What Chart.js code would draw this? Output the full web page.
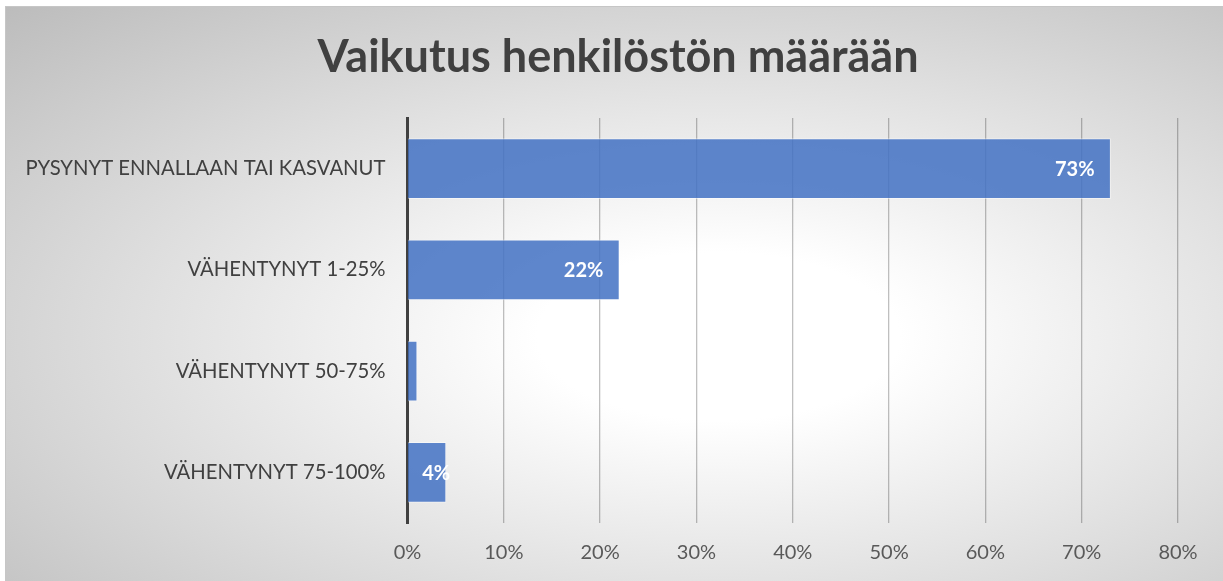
<!DOCTYPE html>
<html>
<head>
<meta charset="utf-8">
<script src="https://cdn.jsdelivr.net/npm/chart.js@4.4.0/dist/chart.umd.min.js"></script>
<style>
  html, body { margin: 0; padding: 0; background: #ffffff; }
  #wrap { position: relative; width: 1223px; height: 581px; overflow: hidden; }
  #bg {
    position: absolute; left: 5px; top: 6px; width: 1230px; height: 590px;
    border: 1px solid #c6c6c6; box-sizing: border-box;
    background: radial-gradient(ellipse farthest-corner at 58% 56%, #ffffff 0%, #ffffff 18%, #bcbcbc 100%);
  }
  #chart { position: absolute; left: 0; top: 0; }
</style>
</head>
<body>
<div id="wrap">
  <div id="bg"></div>
  <canvas id="chart" width="1223" height="581"></canvas>
</div>
<script>
// kategoriat ja arvot (%)
const categories = [
  'PYSYNYT ENNALLAAN TAI KASVANUT',
  'VÄHENTYNYT 1-25%',
  'VÄHENTYNYT 50-75%',
  'VÄHENTYNYT 75-100%'
];
const values = [73, 22, 1, 4];
// näkyvät arvotunnisteet (1 % ei näy alkuperäisessä)
const valueLabels = ['73%', '22%', '', '4%'];
const xTicks = [0, 10, 20, 30, 40, 50, 60, 70, 80];

const FONT = 'Lato, "Open Sans", sans-serif';

// arvotunnisteet palkin sisäpäätyyn
const barLabels = {
  id: 'barLabels',
  afterDatasetsDraw(chart) {
    const ctx = chart.ctx;
    const meta = chart.getDatasetMeta(0);
    ctx.save();
    ctx.font = 'bold 20px ' + FONT;
    ctx.fillStyle = '#ffffff';
    ctx.textAlign = 'right';
    ctx.textBaseline = 'middle';
    meta.data.forEach((bar, i) => {
      const text = valueLabels[i];
      if (!text) return;
      const w = ctx.measureText(text).width;
      const x = Math.max(bar.x - 16, bar.base + 14 + w);
      ctx.fillText(text, x, bar.y + 1);
    });
    ctx.restore();
  }
};

new Chart(document.getElementById('chart'), {
  type: 'bar',
  data: {
    labels: categories,
    datasets: [{
      data: values,
      backgroundColor: 'rgba(68, 114, 196, 0.86)',
      borderColor: 'rgba(255, 255, 255, 0.45)',
      borderWidth: 1,
      barThickness: 60
    }]
  },
  options: {
    indexAxis: 'y',
    responsive: false,
    animation: false,
    layout: {
      padding: { left: 13, right: 0, top: 6, bottom: 8 }
    },
    scales: {
      x: {
        min: 0,
        max: 80,
        afterBuildTicks: (scale) => {
          scale.ticks = xTicks.map(v => ({ value: v }));
        },
        afterFit: (scale) => { scale.height = 50; },
        ticks: {
          callback: (v) => v + '%',
          color: '#595959',
          font: { family: FONT, size: 20 },
          padding: 18
        },
        grid: {
          color: 'rgba(0, 0, 0, 0.25)',
          lineWidth: 1.3,
          drawTicks: false
        },
        border: { display: false }
      },
      y: {
        afterFit: (scale) => { scale.width = 394.5; },
        ticks: {
          color: '#404040',
          font: { family: FONT, size: 20.3 },
          padding: 22
        },
        grid: { display: false, drawTicks: false },
        border: { display: true, color: '#404040', width: 3 }
      },
      // tyhjä oikea reuna, jotta otsikko keskittyy kuten alkuperäisessä
      yRight: {
        axis: 'y',
        type: 'category',
        position: 'right',
        afterFit: (scale) => { scale.width = 45; },
        ticks: { display: false },
        grid: { display: false, drawTicks: false },
        border: { display: false }
      }
    },
    plugins: {
      legend: { display: false },
      tooltip: { enabled: false },
      title: {
        display: true,
        text: 'Vaikutus henkilöstön määrään',
        color: '#404040',
        font: { family: FONT, size: 45, weight: 'bold', lineHeight: 1.2 },
        padding: { top: 24, bottom: 34 }
      }
    }
  },
  plugins: [barLabels]
});
</script>
</body>
</html>
